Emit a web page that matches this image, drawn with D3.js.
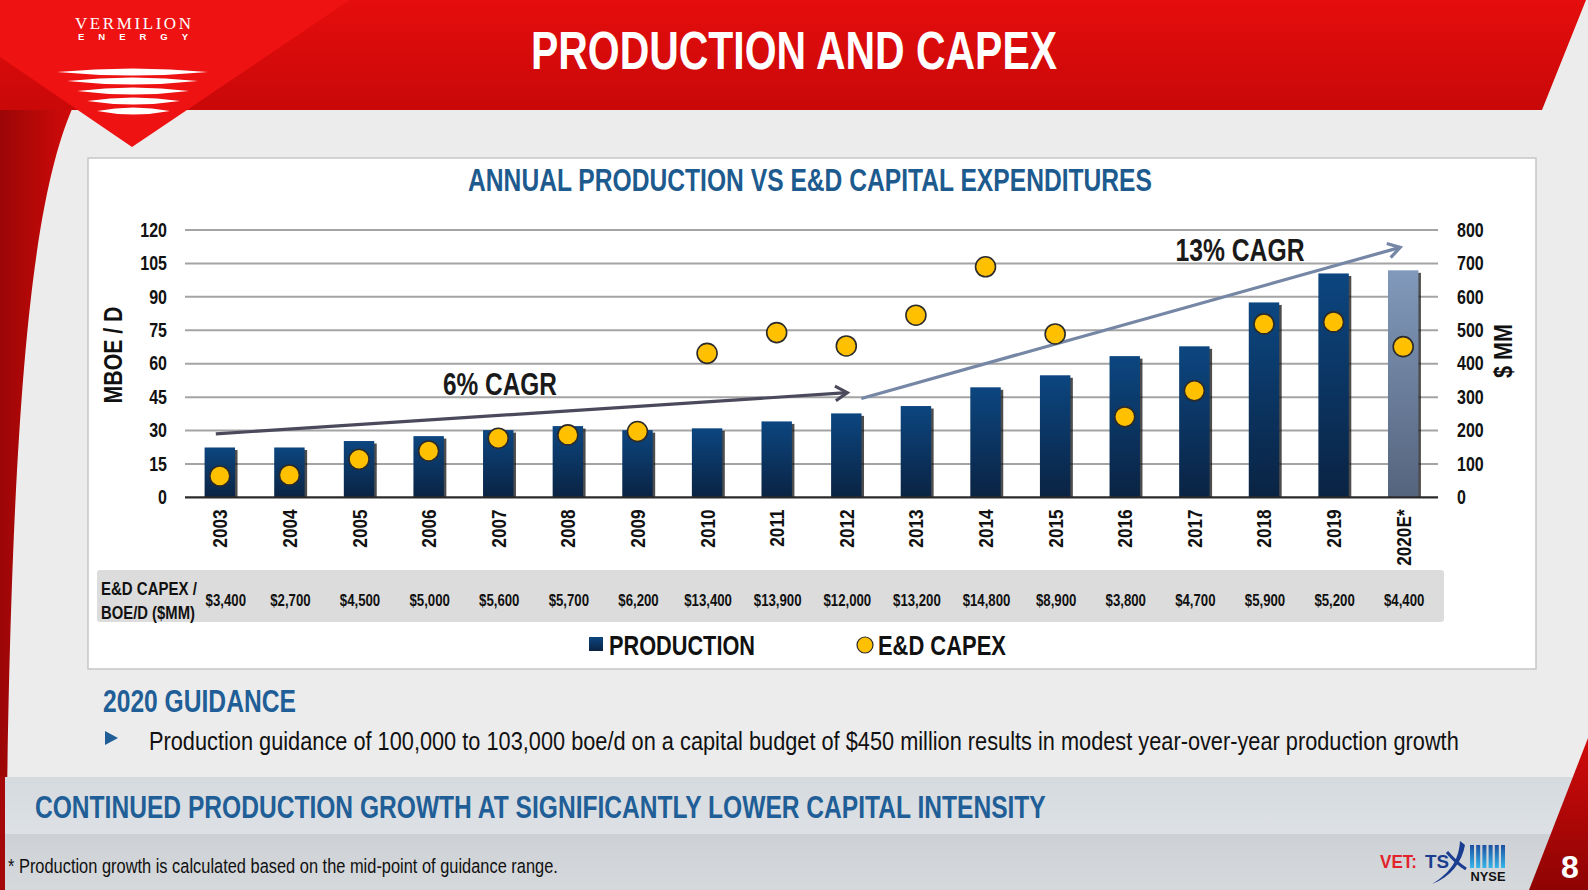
<!DOCTYPE html>
<html>
<head>
<meta charset="utf-8">
<script src="https://cdn.jsdelivr.net/npm/d3@7/dist/d3.min.js"></script>
<style>
  html, body { margin: 0; padding: 0; background: #ececec; }
  svg { display: block; }
  text { font-family: 'Liberation Sans', Arial, sans-serif; }
</style>
</head>
<body>
<svg id="slide" width="1588" height="890"></svg>
<script>
// chart values
const years = ['2003', '2004', '2005', '2006', '2007', '2008', '2009', '2010', '2011',
    '2012', '2013', '2014', '2015', '2016', '2017', '2018', '2019', '2020E*'];
const production = [22.4, 22.4, 25.3, 27.5, 30.2, 32.0, 30.2, 31.0, 34.1,
    37.7, 41.0, 49.4, 54.8, 63.4, 67.8, 87.5, 100.5, 101.9];
const capex = [64, 67, 114, 139, 177, 187, 197, 431, 493,
    453, 545, 690, 489, 241, 319, 519, 525, 451];
const capexPerBoe = ['$3,400', '$2,700', '$4,500', '$5,000', '$5,600', '$5,700', '$6,200', '$13,400', '$13,900',
    '$12,000', '$13,200', '$14,800', '$8,900', '$3,800', '$4,700', '$5,900', '$5,200', '$4,400'];
const leftTicks = [0, 15, 30, 45, 60, 75, 90, 105, 120];
const rightTicks = [0, 100, 200, 300, 400, 500, 600, 700, 800];
const cagrArrows = [
    { label: '6% CAGR', from: ['2003', 28.5], to: ['2012', 47] },
    { label: '13% CAGR', from: ['2012', 44.4], to: ['2020E*', 112.2] }
];

// no narrow font installed: squeeze Liberation Sans horizontally instead
const NARROW = 0.82;

const svg = d3.select('#slide');
const defs = svg.append('defs');

const grad = (id, stops, vertical = true) => {
    const g = defs.append('linearGradient').attr('id', id)
        .attr('x1', 0).attr('y1', 0)
        .attr('x2', vertical ? 0 : 1).attr('y2', vertical ? 1 : 0);
    stops.forEach(([o, c]) => g.append('stop').attr('offset', o).attr('stop-color', c));
};
grad('hdr', [[0, '#e50d0d'], [1, '#c90808']]);
grad('leftArc', [[0, '#9c0606'], [1, '#d40a0a']], false);
grad('bar', [[0, '#0c4680'], [1, '#0a2343']]);
grad('barEst', [[0, '#8199bb'], [1, '#55647d']]);
grad('band', [[0, '#d5dadf'], [1, '#dde1e5']]);
grad('foot', [[0, '#cdd1d5'], [1, '#d6d9dc']]);
grad('corner', [[0, '#d10b0b'], [1, '#8e0303']]);
grad('nyse', [[0, '#1c4fa0'], [1, '#35b6ea']]);

// text placed by transform; width given -> squeezed to that width, else NARROW
const label = (parent, x, y, str, o = {}) => {
    const t = parent.append('text')
        .attr('font-size', o.size || 20)
        .attr('font-weight', o.weight || 'bold')
        .attr('fill', o.fill || '#111')
        .attr('text-anchor', o.anchor || 'start')
        .text(str);
    const w = t.node().getComputedTextLength();
    const s = o.width ? o.width / w : (o.scale || NARROW);
    t.attr('transform', `translate(${x},${y})${o.rotate ? ` rotate(${o.rotate})` : ''} scale(${s},1)`);
    return t;
};

// ---------- slide background ----------
svg.append('rect').attr('width', 1588).attr('height', 890).attr('fill', '#ececec');

svg.append('path')
    .attr('d', 'M0,100 L76,100 C34,190 10,380 6,890 L0,890 Z')
    .attr('fill', 'url(#leftArc)');

svg.append('path')
    .attr('d', 'M0,0 L1586,0 L1542,110 L0,110 Z')
    .attr('fill', 'url(#hdr)');

svg.append('path')
    .attr('d', 'M0,0 L350,0 L132,147 L0,57 Z')
    .attr('fill', '#ee1212');

// logo
svg.append('text').attr('x', 133).attr('y', 28.5).attr('text-anchor', 'middle')
    .attr('textLength', 116).attr('lengthAdjust', 'spacing')
    .style('font-family', "'Liberation Serif', 'DejaVu Serif', serif")
    .attr('font-size', 17).attr('fill', '#fff').text('VERMILION');
svg.append('text').attr('x', 133).attr('y', 40).attr('text-anchor', 'middle')
    .attr('textLength', 110).attr('lengthAdjust', 'spacing')
    .attr('font-size', 9.5).attr('font-weight', 'bold').attr('fill', '#fff').text('ENERGY');

[[72, 57, 208], [81, 67, 198], [91, 77, 189], [101, 87, 180], [111, 97, 170]].forEach(([y, x0, x1]) => {
    const m = (x0 + x1) / 2;
    svg.append('path')
        .attr('d', `M${x0},${y} Q${m},${y - 7} ${x1},${y} Q${m},${y + 7} ${x0},${y} Z`)
        .attr('fill', '#fff');
});

label(svg, 794, 69, 'PRODUCTION AND CAPEX', { size: 54, fill: '#fff', anchor: 'middle', width: 526 });

// ---------- chart panel ----------
svg.append('rect').attr('x', 88).attr('y', 158).attr('width', 1448).attr('height', 511)
    .attr('fill', '#fff').attr('stroke', '#c6c6c6').attr('stroke-width', 1.5);

label(svg, 810, 191, 'ANNUAL PRODUCTION VS E&D CAPITAL EXPENDITURES',
    { size: 32, fill: '#1d5b8f', anchor: 'middle', width: 684 });

const plot = { left: 185, right: 1438, top: 230, bottom: 497.4 };

const x = d3.scaleBand().domain(years).range([plot.left, plot.right])
    .paddingInner(0.563).paddingOuter(0.2815);
const yL = d3.scaleLinear().domain([0, 120]).range([plot.bottom, plot.top]);
const yR = d3.scaleLinear().domain([0, 800]).range([plot.bottom, plot.top]);
const cx = d => x(d) + x.bandwidth() / 2;

// gridlines
svg.append('g').selectAll('line').data(leftTicks.slice(1)).join('line')
    .attr('x1', plot.left).attr('x2', plot.right)
    .attr('y1', d => yL(d)).attr('y2', d => yL(d))
    .attr('stroke', '#a4a4a4').attr('stroke-width', 2);

// axes
const styleTicks = g => {
    g.select('.domain').remove();
    g.selectAll('text')
        .attr('font-size', 19.5).attr('font-weight', 'bold').attr('fill', '#111')
        .style('font-family', "'Liberation Sans', Arial, sans-serif")
        .attr('transform', `scale(${NARROW},1)`);
};
svg.append('g').attr('transform', `translate(${plot.left - 18},0)`)
    .call(d3.axisLeft(yL).tickValues(leftTicks).tickSize(0).tickPadding(0))
    .call(styleTicks);
svg.append('g').attr('transform', `translate(${plot.right + 19},0)`)
    .call(d3.axisRight(yR).tickValues(rightTicks).tickSize(0).tickPadding(0))
    .call(styleTicks);

label(svg, 122, 355, 'MBOE / D', { size: 26, anchor: 'middle', rotate: -90, width: 97 });
label(svg, 1512, 351, '$ MM', { size: 26, anchor: 'middle', rotate: -90, width: 54 });

// bars
const bars = svg.append('g');
bars.selectAll('rect.shadow').data(production).join('rect').attr('class', 'shadow')
    .attr('x', (d, i) => x(years[i]) + 2.5).attr('y', d => yL(d) + 2.5)
    .attr('width', x.bandwidth()).attr('height', d => plot.bottom - yL(d) - 2.5)
    .attr('fill', '#111').attr('opacity', 0.75);
bars.selectAll('rect.bar').data(production).join('rect').attr('class', 'bar')
    .attr('x', (d, i) => x(years[i])).attr('y', d => yL(d))
    .attr('width', x.bandwidth()).attr('height', d => plot.bottom - yL(d))
    .attr('fill', (d, i) => years[i].includes('E') ? 'url(#barEst)' : 'url(#bar)');

// zero line
svg.append('line').attr('x1', plot.left).attr('x2', plot.right)
    .attr('y1', yL(0)).attr('y2', yL(0)).attr('stroke', '#2a2a2a').attr('stroke-width', 2.2);

// year labels
svg.append('g').selectAll('text').data(years).join('text')
    .attr('transform', d => `translate(${cx(d) + 7.5},${plot.bottom + 12}) rotate(-90) scale(${NARROW},1)`)
    .attr('text-anchor', 'end')
    .attr('font-size', 21).attr('font-weight', 'bold').attr('fill', '#111')
    .text(d => d);

// CAGR arrows
cagrArrows.forEach((a, i) => {
    const color = i === 0 ? '#4a4a5c' : '#7687a6';
    const x1 = cx(a.from[0]) + (i === 0 ? -4 : 15);
    const x2 = cx(a.to[0]) + (i === 0 ? 1 : -3);
    const y1 = yL(a.from[1]), y2 = yL(a.to[1]);
    svg.append('line').attr('x1', x1).attr('y1', y1).attr('x2', x2).attr('y2', y2)
        .attr('stroke', color).attr('stroke-width', 3.2);
    const ang = Math.atan2(y2 - y1, x2 - x1);
    const len = 14, spread = 0.55;
    const head = [
        [x2 - len * Math.cos(ang - spread), y2 - len * Math.sin(ang - spread)],
        [x2, y2],
        [x2 - len * Math.cos(ang + spread), y2 - len * Math.sin(ang + spread)]
    ];
    svg.append('path').attr('d', d3.line()(head))
        .attr('fill', 'none').attr('stroke', color).attr('stroke-width', 3.2);
});
label(svg, 500, 395, cagrArrows[0].label, { size: 31, anchor: 'middle', width: 114, fill: '#1a1a1a' });
label(svg, 1240, 261, cagrArrows[1].label, { size: 31, anchor: 'middle', width: 129, fill: '#1a1a1a' });

// capex dots
svg.append('g').selectAll('circle').data(capex).join('circle')
    .attr('cx', (d, i) => cx(years[i])).attr('cy', d => yR(d)).attr('r', 10)
    .attr('fill', '#ffc000').attr('stroke', '#2b2b2b').attr('stroke-width', 1.6);

// capex per boe/d table row
svg.append('rect').attr('x', 97).attr('y', 570).attr('width', 1347).attr('height', 52)
    .attr('rx', 3).attr('fill', '#dcdcdc');
label(svg, 101, 595, 'E&D CAPEX /', { size: 18, width: 96 });
label(svg, 101, 619, 'BOE/D ($MM)', { size: 18, width: 94 });
svg.append('g').selectAll('text').data(capexPerBoe).join('text')
    .attr('transform', (d, i) => `translate(${cx(years[i]) + (i === 0 ? 6 : 1)},606) scale(${NARROW - 0.02},1)`)
    .attr('text-anchor', 'middle').attr('font-size', 16.5).attr('font-weight', 'bold')
    .attr('fill', '#111').text(d => d);

// legend
const lg = svg.append('g');
lg.append('rect').attr('x', 589).attr('y', 637).attr('width', 14).attr('height', 14).attr('fill', 'url(#bar)');
label(lg, 609, 655, 'PRODUCTION', { size: 27, width: 146 });
lg.append('circle').attr('cx', 865).attr('cy', 645).attr('r', 8)
    .attr('fill', '#ffc000').attr('stroke', '#2b2b2b').attr('stroke-width', 1.2);
label(lg, 878, 655, 'E&D CAPEX', { size: 27, width: 128 });

// ---------- guidance ----------
label(svg, 103, 712, '2020 GUIDANCE', { size: 31, fill: '#1f5e96', width: 193 });
svg.append('path').attr('d', 'M105,731 L118,738 L105,745 Z').attr('fill', '#1f5e96');
label(svg, 149, 750,
    'Production guidance of 100,000 to 103,000 boe/d on a capital budget of $450 million results in modest year-over-year production growth',
    { size: 26, weight: 'normal', width: 1310 });

// bottom bands
svg.append('rect').attr('x', 0).attr('y', 777).attr('width', 1588).attr('height', 57).attr('fill', 'url(#band)');
svg.append('rect').attr('x', 0).attr('y', 834).attr('width', 1588).attr('height', 56).attr('fill', 'url(#foot)');
svg.append('rect').attr('x', 0).attr('y', 777).attr('width', 5).attr('height', 113).attr('fill', '#a50808');

label(svg, 35, 818, 'CONTINUED PRODUCTION GROWTH AT SIGNIFICANTLY LOWER CAPITAL INTENSITY',
    { size: 31, fill: '#1f5e96', width: 1011 });
label(svg, 8, 873, '* Production growth is calculated based on the mid-point of guidance range.',
    { size: 19.5, weight: 'normal', width: 550 });

// corner + page number
svg.append('path').attr('d', 'M1588,738 L1588,890 L1529,890 Z').attr('fill', 'url(#corner)');
label(svg, 1570, 878, '8', { size: 32, fill: '#fff', anchor: 'middle', scale: 1 });

// exchange marks
label(svg, 1380, 868, 'VET:', { size: 18, fill: '#e3232b', width: 37 });
label(svg, 1425, 868, 'TS', { size: 18, fill: '#1b3d8f', width: 24 });
svg.append('path').attr('d', 'M1460,841 C1459,858 1452,872 1432,884 C1451,877 1462,862 1465,845 Z')
    .attr('fill', '#1b3d8f');
svg.append('path').attr('d', 'M1447,852 C1452,858 1458,864 1466,869').attr('fill', 'none')
    .attr('stroke', '#1b3d8f').attr('stroke-width', 3);
d3.range(6).forEach(i => {
    svg.append('rect').attr('x', 1470 + i * 6.2).attr('y', 845).attr('width', 4).attr('height', 23)
        .attr('fill', 'url(#nyse)');
});
label(svg, 1488, 881, 'NYSE', { size: 12.5, anchor: 'middle', width: 35 });
</script>
</body>
</html>
